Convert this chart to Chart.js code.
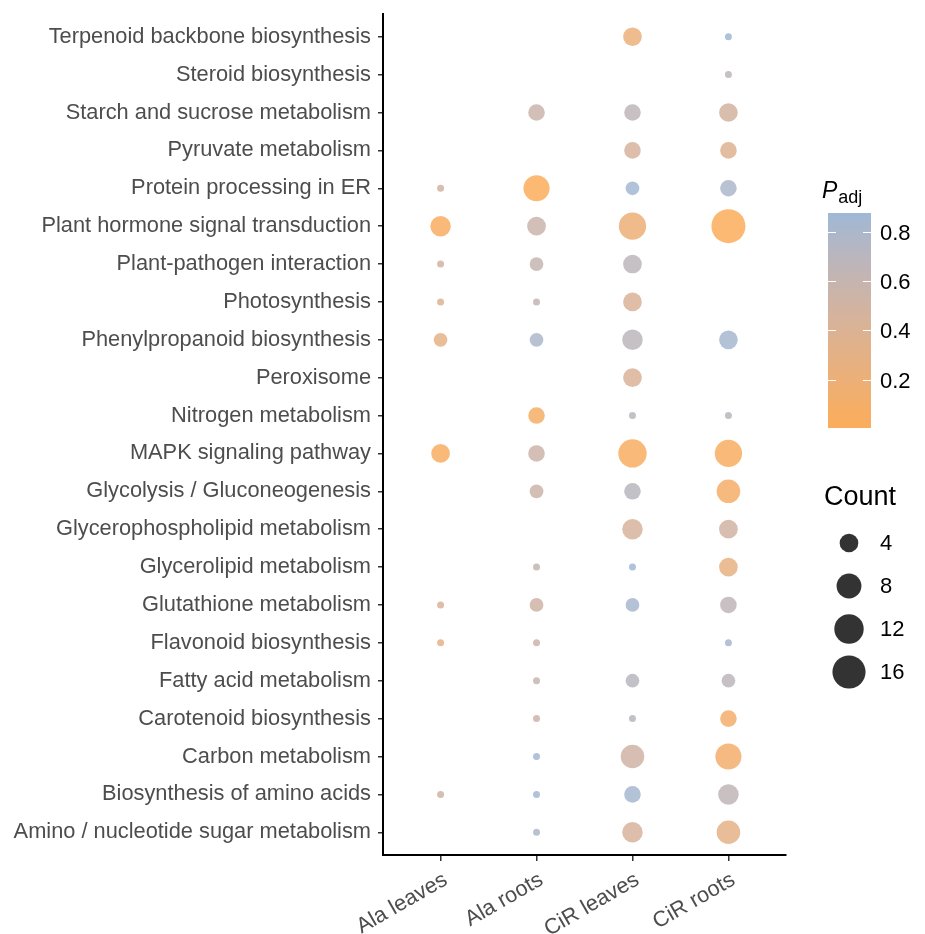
<!DOCTYPE html>
<html>
<head>
<meta charset="utf-8">
<script src="https://cdn.jsdelivr.net/npm/chart.js@4.4.1/dist/chart.umd.min.js"></script>
<style>
  html, body { margin: 0; padding: 0; background: #ffffff; }
  #wrap { width: 925px; height: 934px; }
</style>
</head>
<body>
<div id="wrap"><canvas id="chart" width="925" height="934"></canvas></div>
<script>
// Pathways, listed from top of the y axis to the bottom
const pathways = [
  'Terpenoid backbone biosynthesis',
  'Steroid biosynthesis',
  'Starch and sucrose metabolism',
  'Pyruvate metabolism',
  'Protein processing in ER',
  'Plant hormone signal transduction',
  'Plant-pathogen interaction',
  'Photosynthesis',
  'Phenylpropanoid biosynthesis',
  'Peroxisome',
  'Nitrogen metabolism',
  'MAPK signaling pathway',
  'Glycolysis / Gluconeogenesis',
  'Glycerophospholipid metabolism',
  'Glycerolipid metabolism',
  'Glutathione metabolism',
  'Flavonoid biosynthesis',
  'Fatty acid metabolism',
  'Carotenoid biosynthesis',
  'Carbon metabolism',
  'Biosynthesis of amino acids',
  'Amino / nucleotide sugar metabolism'
];

const groups = ['Ala leaves', 'Ala roots', 'CiR leaves', 'CiR roots'];

// Gene counts per pathway (null = pathway not enriched in that sample)
const countAlaLeaves = [null, null, null, null, 1, 5, 1, 1, 2, null, null, 4, null, null, null, 1, 1, null, null, null, 1, null];
const countAlaRoots  = [null, null, 3, null, 9, 4, 2, 1, 2, null, 3, 3, 2, null, 1, 2, 1, 1, 1, 1, 1, 1];
const countCiRLeaves = [4, null, 3, 3, 2, 10, 4, 4, 5, 4, 1, 11, 3, 5, 1, 2, null, 2, 1, 7, 3, 5];
const countCiRRoots  = [1, 1, 4, 3, 3, 17, null, null, 4, null, 1, 10, 7, 4, 4, 3, 1, 2, 3, 9, 5, 7];

// Adjusted p-values per pathway
const padjAlaLeaves = [null, null, null, null, 0.50, 0.05, 0.48, 0.36, 0.30, null, null, 0.05, null, null, null, 0.42, 0.30, null, null, null, 0.52, null];
const padjAlaRoots  = [null, null, 0.56, null, 0.01, 0.57, 0.60, 0.62, 0.80, null, 0.08, 0.55, 0.55, null, 0.62, 0.52, 0.55, 0.60, 0.55, 0.85, 0.85, 0.78];
const padjCiRLeaves = [0.22, null, 0.66, 0.45, 0.85, 0.20, 0.68, 0.42, 0.68, 0.42, 0.70, 0.05, 0.70, 0.45, 0.85, 0.82, null, 0.70, 0.70, 0.52, 0.83, 0.45];
const padjCiRRoots  = [0.876, 0.68, 0.48, 0.38, 0.80, 0.005, null, null, 0.83, null, 0.70, 0.05, 0.10, 0.50, 0.28, 0.66, 0.82, 0.68, 0.12, 0.12, 0.65, 0.30];

// Legend breaks
const padjTicks = [0.2, 0.4, 0.6, 0.8];
const countTicks = [4, 8, 12, 16];

const countSeries = [countAlaLeaves, countAlaRoots, countCiRLeaves, countCiRRoots];
const padjSeries = [padjAlaLeaves, padjAlaRoots, padjCiRLeaves, padjCiRRoots];

// ---- scales for size and colour ----
const allCounts = countSeries.flat().filter(v => v != null);
const allPadj = padjSeries.flat().filter(v => v != null);
const countMin = Math.min(...allCounts), countMax = Math.max(...allCounts);
const padjMin = Math.min(...allPadj), padjMax = Math.max(...allPadj);

const DIAM_MIN = 7, DIAM_MAX = 34;
function radiusFor(count) {
  const t = (count - countMin) / (countMax - countMin);
  return (DIAM_MIN + (DIAM_MAX - DIAM_MIN) * Math.sqrt(Math.max(0, t))) / 2;
}

// colour gradient interpolated in CIE Lab
const LOW_COLOR = [251, 173, 90];
const HIGH_COLOR = [159, 184, 214];
function toLin(c) { c /= 255; return c <= 0.04045 ? c / 12.92 : Math.pow((c + 0.055) / 1.055, 2.4); }
function fromLin(c) { const v = c <= 0.0031308 ? 12.92 * c : 1.055 * Math.pow(c, 1 / 2.4) - 0.055; return Math.round(Math.max(0, Math.min(1, v)) * 255); }
const WX = 0.95047, WY = 1.0, WZ = 1.08883;
function fLab(t) { return t > 0.008856 ? Math.cbrt(t) : 7.787 * t + 16 / 116; }
function fInv(t) { return t > 0.206893 ? t * t * t : (t - 16 / 116) / 7.787; }
function rgbToLab(rgb) {
  const r = toLin(rgb[0]), g = toLin(rgb[1]), b = toLin(rgb[2]);
  const X = (0.4124 * r + 0.3576 * g + 0.1805 * b) / WX;
  const Y = (0.2126 * r + 0.7152 * g + 0.0722 * b) / WY;
  const Z = (0.0193 * r + 0.1192 * g + 0.9505 * b) / WZ;
  const fx = fLab(X), fy = fLab(Y), fz = fLab(Z);
  return [116 * fy - 16, 500 * (fx - fy), 200 * (fy - fz)];
}
function labToRgb(lab) {
  const fy = (lab[0] + 16) / 116, fx = fy + lab[1] / 500, fz = fy - lab[2] / 200;
  const X = fInv(fx) * WX, Y = fInv(fy) * WY, Z = fInv(fz) * WZ;
  const r = 3.2406 * X - 1.5372 * Y - 0.4986 * Z;
  const g = -0.9689 * X + 1.8758 * Y + 0.0415 * Z;
  const b = 0.0557 * X - 0.2040 * Y + 1.0570 * Z;
  return [fromLin(r), fromLin(g), fromLin(b)];
}
const LOW_LAB = rgbToLab(LOW_COLOR), HIGH_LAB = rgbToLab(HIGH_COLOR);
function colorFor(padj, alpha) {
  const t = Math.max(0, Math.min(1, (padj - padjMin) / (padjMax - padjMin)));
  const lab = LOW_LAB.map((v, i) => v + (HIGH_LAB[i] - v) * t);
  const c = labToRgb(lab);
  return `rgba(${c[0]},${c[1]},${c[2]},${alpha})`;
}

// ---- datasets ----
const datasets = groups.map((g, gi) => {
  const pts = [];
  pathways.forEach((p, pi) => {
    const c = countSeries[gi][pi];
    if (c == null) return;
    pts.push({ x: gi, y: pi, r: radiusFor(c), count: c, padj: padjSeries[gi][pi] });
  });
  return {
    label: g,
    data: pts,
    backgroundColor: ctx => colorFor(ctx.raw.padj, 0.85),
    borderWidth: 0,
    hoverBorderWidth: 0
  };
});

const FONT = '"Liberation Sans", Arial, Helvetica, sans-serif';
const TICK_COLOR = '#4D4D4D';
const TICK_SIZE = 21.8;

// Colour bar and size key on the right
const legendPlugin = {
  id: 'enrichLegend',
  afterDraw(chart) {
    const ctx = chart.ctx;
    ctx.save();

    // title: italic P with subscript "adj"
    ctx.fillStyle = '#000000';
    ctx.textBaseline = 'alphabetic';
    ctx.textAlign = 'left';
    ctx.font = `italic 23px ${FONT}`;
    ctx.fillText('P', 822, 198);
    const pw = ctx.measureText('P').width;
    ctx.font = `18px ${FONT}`;
    ctx.fillText('adj', 822 + pw + 1, 203);

    // colour bar
    const barX = 828, barW = 43, barTop = 213, barBottom = 428;
    const grad = ctx.createLinearGradient(0, barBottom, 0, barTop);
    const steps = 30;
    for (let i = 0; i <= steps; i++) {
      const v = padjMin + (padjMax - padjMin) * i / steps;
      grad.addColorStop(i / steps, colorFor(v, 1));
    }
    ctx.fillStyle = grad;
    ctx.fillRect(barX, barTop, barW, barBottom - barTop);

    const yForPadj = v => barBottom - (v - padjMin) / (padjMax - padjMin) * (barBottom - barTop);
    ctx.strokeStyle = '#ffffff';
    ctx.lineWidth = 1;
    ctx.font = `22px ${FONT}`;
    ctx.textBaseline = 'middle';
    padjTicks.forEach(v => {
      const y = Math.round(yForPadj(v)) + 0.5;
      ctx.beginPath();
      ctx.moveTo(barX, y); ctx.lineTo(barX + 8, y);
      ctx.moveTo(barX + barW - 8, y); ctx.lineTo(barX + barW, y);
      ctx.stroke();
      ctx.fillStyle = '#000000';
      ctx.fillText(v.toFixed(1), 880, y + 1);
    });

    // size key
    ctx.textBaseline = 'alphabetic';
    ctx.font = `27px ${FONT}`;
    ctx.fillStyle = '#000000';
    ctx.fillText('Count', 824, 505);
    const keyY = [543, 586, 629, 672];
    ctx.font = `22px ${FONT}`;
    ctx.textBaseline = 'middle';
    countTicks.forEach((c, i) => {
      ctx.beginPath();
      ctx.fillStyle = '#333333';
      ctx.arc(849, keyY[i], radiusFor(c), 0, Math.PI * 2);
      ctx.fill();
      ctx.fillStyle = '#000000';
      ctx.fillText(String(c), 880, keyY[i] + 1);
    });
    ctx.restore();
  }
};

new Chart(document.getElementById('chart'), {
  type: 'bubble',
  data: { datasets },
  plugins: [legendPlugin],
  options: {
    responsive: false,
    animation: false,
    devicePixelRatio: 1,
    layout: { autoPadding: false, padding: { top: 14, right: 139, bottom: 0, left: 0 } },
    plugins: { legend: { display: false }, tooltip: { enabled: false } },
    scales: {
      x: {
        type: 'linear',
        min: -0.6,
        max: groups.length - 1 + 0.6,
        afterBuildTicks: scale => { scale.ticks = groups.map((g, i) => ({ value: i })); },
        afterFit: scale => { scale.height = 79; scale.paddingLeft = 0; scale.paddingRight = 0; },
        ticks: {
          autoSkip: false,
          minRotation: 30,
          maxRotation: 30,
          padding: 6,
          labelOffset: 5,
          color: TICK_COLOR,
          font: { family: FONT, size: TICK_SIZE },
          callback: v => groups[v]
        },
        grid: { display: true, drawOnChartArea: false, drawTicks: true, tickLength: 6, color: '#333333', lineWidth: 1.5 },
        border: { display: true, color: '#000000', width: 2 }
      },
      y: {
        type: 'linear',
        reverse: true,
        min: -0.6,
        max: pathways.length - 1 + 0.6,
        afterBuildTicks: scale => { scale.ticks = pathways.map((p, i) => ({ value: i })); },
        afterFit: scale => { scale.width = 383; scale.paddingTop = 0; scale.paddingBottom = 0; },
        ticks: {
          autoSkip: false,
          padding: 7,
          color: TICK_COLOR,
          font: { family: FONT, size: TICK_SIZE },
          callback: v => pathways[v]
        },
        grid: { display: true, drawOnChartArea: false, drawTicks: true, tickLength: 5, color: '#333333', lineWidth: 1.5 },
        border: { display: true, color: '#000000', width: 2 }
      }
    }
  }
});
</script>
</body>
</html>
